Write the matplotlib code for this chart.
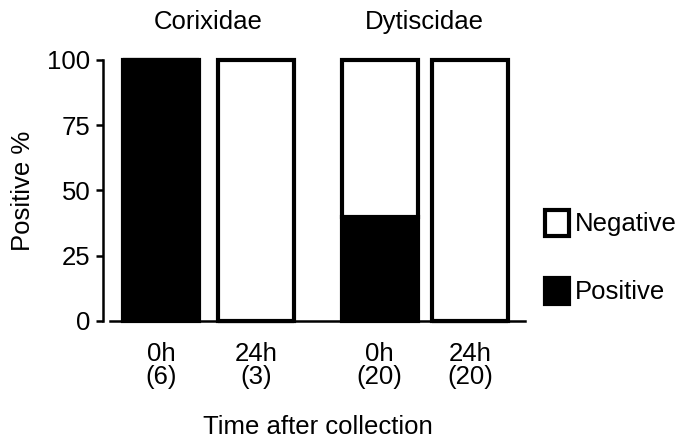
import numpy as np
import matplotlib
matplotlib.use("Agg")
import matplotlib.pyplot as plt
from matplotlib.transforms import blended_transform_factory

plt.rcParams["font.family"] = ["Liberation Sans", "DejaVu Sans"]

# data
groups = ["Corixidae", "Dytiscidae"]
tick_labels = ["0h\n(6)", "24h\n(3)", "0h\n(20)", "24h\n(20)"]
group_of_bar = [0, 0, 1, 1]
positive = [100, 0, 40, 0]
negative = [0, 100, 60, 100]

# bar layout (gap between the two groups)
x = np.array([0.0, 1.0, 2.3, 3.25])
width = 0.8
fs = 18.5

fig = plt.figure(figsize=(6.95, 4.47), dpi=100)
ax = fig.add_axes([110 / 695, 1 - 321 / 447, 415 / 695, 261 / 447])

lw = 3.0
b_pos = ax.bar(x, positive, width, color="black", edgecolor="black", linewidth=lw,
               label="Positive", clip_on=False)
b_neg = ax.bar(x, negative, width, bottom=positive, color="white", edgecolor="black",
               linewidth=lw, label="Negative", clip_on=False)

ax.set_xlim(-0.537, 3.83)
ax.set_ylim(0, 100)
ax.set_yticks([0, 25, 50, 75, 100])
ax.set_xticks(x)
ax.set_xticklabels(tick_labels, fontsize=fs, linespacing=0.95)
ax.tick_params(axis="x", length=0, pad=15)
ax.tick_params(axis="y", length=5, width=1.8, pad=4, labelsize=fs)

for s in ["top", "right"]:
    ax.spines[s].set_visible(False)
ax.spines["left"].set_position(("outward", 5))
ax.spines["left"].set_linewidth(1.8)
ax.spines["bottom"].set_linewidth(1.8)

ax.set_ylabel("Positive %", fontsize=fs, labelpad=9)
ax.set_xlabel("Time after collection", fontsize=fs, labelpad=19)

# group titles above the bars
trans = blended_transform_factory(ax.transData, fig.transFigure)
for gi, name in enumerate(groups):
    xs = [x[i] for i in range(len(x)) if group_of_bar[i] == gi]
    ax.text(np.mean(xs), 1 - 22 / 447, name, transform=trans, ha="center",
            va="center", fontsize=fs)

ax.legend([b_neg, b_pos], ["Negative", "Positive"], loc="center left",
          bbox_to_anchor=(545 / 695, 1 - 257 / 447), bbox_transform=fig.transFigure,
          frameon=False, fontsize=fs, handlelength=0.95, handleheight=1.2,
          handletextpad=0.2, labelspacing=1.6, borderpad=0, borderaxespad=0)

fig.savefig("out.png", dpi=100)
